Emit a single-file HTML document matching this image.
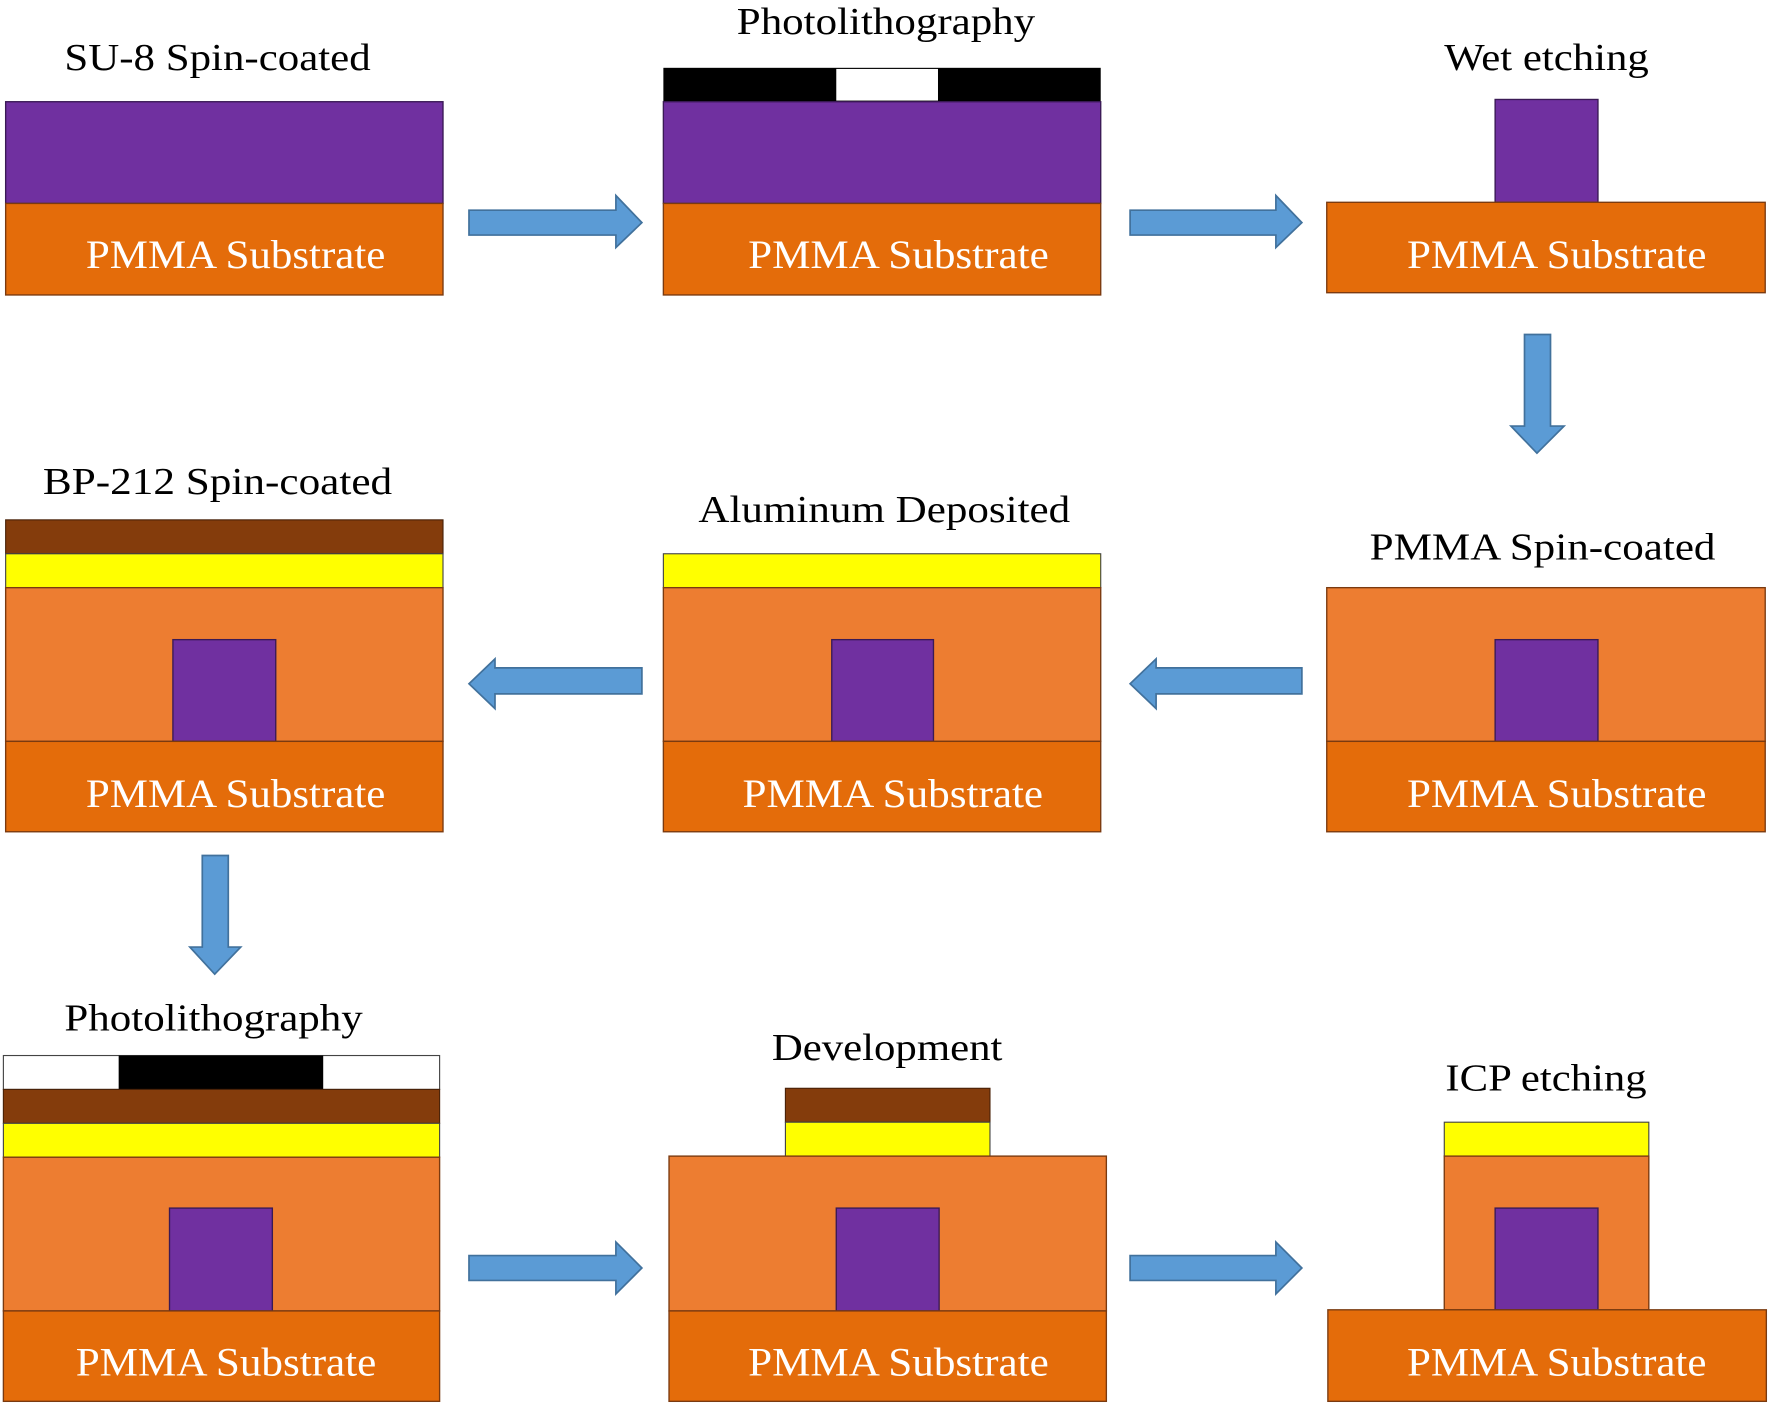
<!DOCTYPE html>
<html><head><meta charset="utf-8"><style>
html,body{margin:0;padding:0;background:#fff;width:1772px;height:1407px;overflow:hidden}
svg{display:block}
text{font-family:"Liberation Serif",serif}
.t{font-size:34px;fill:#000}
.s{font-size:36px;fill:#fff}
.st{fill:#E46C0A;stroke:#7a3a10;stroke-width:1.2}
.pm{fill:#ED7D31;stroke:#7a3a10;stroke-width:1.2}
.pu{fill:#7030A0;stroke:#3a1a55;stroke-width:1.2}
.ye{fill:#FFFF00;stroke:#444;stroke-width:1}
.br{fill:#843C0C;stroke:#4a2208;stroke-width:1}
.bk{fill:#000}
.wh{fill:#fff;stroke:#444;stroke-width:1}
.ar{fill:#5B9BD5;stroke:#41719C;stroke-width:1.5}
</style></head><body>
<svg width="1772" height="1407" viewBox="0 0 1568 1245" xmlns="http://www.w3.org/2000/svg">
<!-- Row 1 -->
<text class="t" x="57" y="62" textLength="271" lengthAdjust="spacingAndGlyphs">SU-8 Spin-coated</text>
<rect class="pu" x="5" y="90" width="387" height="90"/>
<rect class="st" x="5" y="180" width="387" height="81"/>
<text class="s" x="76" y="237" textLength="265" lengthAdjust="spacingAndGlyphs">PMMA Substrate</text>

<polygon class="ar" points="415,186 545,186 545,173 568,197 545,219 545,208 415,208"/>

<text class="t" x="652" y="30" textLength="264" lengthAdjust="spacingAndGlyphs">Photolithography</text>
<rect class="bk" x="587" y="60" width="387" height="30"/>
<rect fill="#fff" x="740" y="61" width="90" height="28"/>
<rect class="pu" x="587" y="90" width="387" height="90"/>
<rect class="st" x="587" y="180" width="387" height="81"/>
<text class="s" x="662" y="237" textLength="266" lengthAdjust="spacingAndGlyphs">PMMA Substrate</text>

<polygon class="ar" points="1000,186 1129,186 1129,173 1152,197 1129,219 1129,208 1000,208"/>

<text class="t" x="1278" y="62" textLength="181" lengthAdjust="spacingAndGlyphs">Wet etching</text>
<rect class="pu" x="1323" y="88" width="91" height="91"/>
<rect class="st" x="1174" y="179" width="388" height="80"/>
<text class="s" x="1245" y="237" textLength="265" lengthAdjust="spacingAndGlyphs">PMMA Substrate</text>

<polygon class="ar" points="1349,296 1372,296 1372,377 1384,377 1360,401 1337,377 1349,377"/>

<!-- Row 2 -->
<text class="t" x="1212" y="495" textLength="306" lengthAdjust="spacingAndGlyphs">PMMA Spin-coated</text>
<rect class="pm" x="1174" y="520" width="388" height="136"/>
<rect class="pu" x="1323" y="566" width="91" height="90"/>
<rect class="st" x="1174" y="656" width="388" height="80"/>
<text class="s" x="1245" y="714" textLength="265" lengthAdjust="spacingAndGlyphs">PMMA Substrate</text>

<polygon class="ar" points="1152,591 1023,591 1023,583 1000,605 1023,627 1023,614 1152,614"/>

<text class="t" x="618" y="462" textLength="329" lengthAdjust="spacingAndGlyphs">Aluminum Deposited</text>
<rect class="ye" x="587" y="490" width="387" height="30"/>
<rect class="pm" x="587" y="520" width="387" height="136"/>
<rect class="pu" x="736" y="566" width="90" height="90"/>
<rect class="st" x="587" y="656" width="387" height="80"/>
<text class="s" x="657" y="714" textLength="266" lengthAdjust="spacingAndGlyphs">PMMA Substrate</text>

<polygon class="ar" points="568,591 438,591 438,583 415,605 438,627 438,614 568,614"/>

<text class="t" x="38" y="437" textLength="309" lengthAdjust="spacingAndGlyphs">BP-212 Spin-coated</text>
<rect class="br" x="5" y="460" width="387" height="30"/>
<rect class="ye" x="5" y="490" width="387" height="30"/>
<rect class="pm" x="5" y="520" width="387" height="136"/>
<rect class="pu" x="153" y="566" width="91" height="90"/>
<rect class="st" x="5" y="656" width="387" height="80"/>
<text class="s" x="76" y="714" textLength="265" lengthAdjust="spacingAndGlyphs">PMMA Substrate</text>

<polygon class="ar" points="179,757 202,757 202,838 213,838 190,862 168,838 179,838"/>

<!-- Row 3 -->
<text class="t" x="57" y="912" textLength="264" lengthAdjust="spacingAndGlyphs">Photolithography</text>
<rect class="wh" x="3" y="934" width="386" height="30"/>
<rect class="bk" x="105" y="934" width="181" height="30"/>
<rect class="br" x="3" y="964" width="386" height="30"/>
<rect class="ye" x="3" y="994" width="386" height="30"/>
<rect class="pm" x="3" y="1024" width="386" height="136"/>
<rect class="pu" x="150" y="1069" width="91" height="91"/>
<rect class="st" x="3" y="1160" width="386" height="80"/>
<text class="s" x="67" y="1217" textLength="266" lengthAdjust="spacingAndGlyphs">PMMA Substrate</text>

<polygon class="ar" points="415,1111 545,1111 545,1099 568,1122 545,1145 545,1133 415,1133"/>

<text class="t" x="683" y="938" textLength="204" lengthAdjust="spacingAndGlyphs">Development</text>
<rect class="br" x="695" y="963" width="181" height="30"/>
<rect class="ye" x="695" y="993" width="181" height="30"/>
<rect class="pm" x="592" y="1023" width="387" height="137"/>
<rect class="pu" x="740" y="1069" width="91" height="91"/>
<rect class="st" x="592" y="1160" width="387" height="80"/>
<text class="s" x="662" y="1217" textLength="266" lengthAdjust="spacingAndGlyphs">PMMA Substrate</text>

<polygon class="ar" points="1000,1111 1129,1111 1129,1099 1152,1122 1129,1145 1129,1133 1000,1133"/>

<text class="t" x="1279" y="965" textLength="178" lengthAdjust="spacingAndGlyphs">ICP etching</text>
<rect class="ye" x="1278" y="993" width="181" height="30"/>
<rect class="pm" x="1278" y="1023" width="181" height="136"/>
<rect class="pu" x="1323" y="1069" width="91" height="90"/>
<rect class="st" x="1175" y="1159" width="388" height="81"/>
<text class="s" x="1245" y="1217" textLength="265" lengthAdjust="spacingAndGlyphs">PMMA Substrate</text>
</svg>
</body></html>
